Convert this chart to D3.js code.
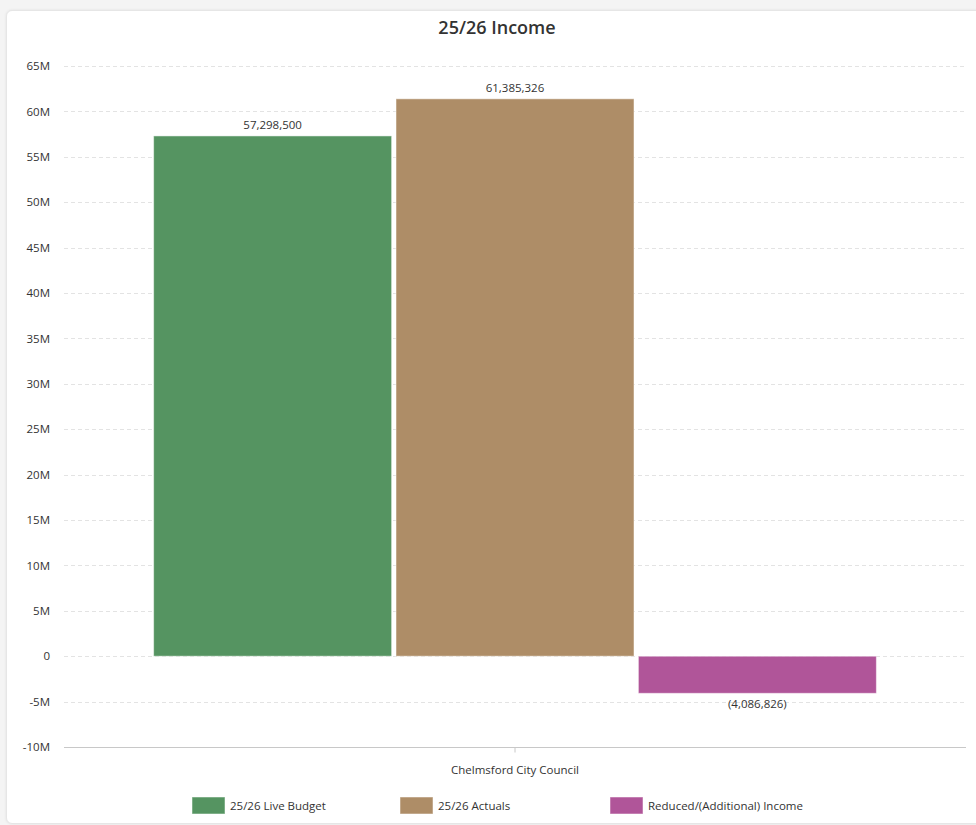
<!DOCTYPE html>
<html>
<head>
<meta charset="utf-8">
<script src="https://cdn.jsdelivr.net/npm/d3@7"></script>
<style>
  html, body { margin: 0; padding: 0; background: #f4f4f4; }
  body { width: 976px; height: 825px; overflow: hidden; position: relative; font-family: "Open Sans", sans-serif; }
  #card { position: absolute; left: 6px; top: 10px; width: 980px; height: 812px; background: #fff;
          border: 1px solid #e6e6e6; border-radius: 6px; box-shadow: 0 0 3px rgba(0,0,0,0.08); }
  svg { position: absolute; left: 0; top: 0; }
</style>
</head>
<body>
<div id="card"></div>
<svg id="chart" width="976" height="825"></svg>
<script>
const categories = ["Chelmsford City Council"];
const seriesNames = ["25/26 Live Budget", "25/26 Actuals", "Reduced/(Additional) Income"];
const seriesValues = [57298500, 61385326, -4086826];
const seriesColors = ["#559461", "#ae8d67", "#b05599"];
const yTicks = [-10e6, -5e6, 0, 5e6, 10e6, 15e6, 20e6, 25e6, 30e6, 35e6, 40e6, 45e6, 50e6, 55e6, 60e6, 65e6];
const title = "25/26 Income";

(function () {
const svg = d3.select("#chart");
const pL = 64, pR = 966, pT = 66, pB = 747;

const y = d3.scaleLinear().domain([-10e6, 65e6]).range([pB, pT]);
const x0 = d3.scaleBand().domain(categories).range([pL, pR]).paddingInner(0).paddingOuter(0.124);
const x1 = d3.scaleBand().domain(seriesNames).range([0, x0.bandwidth()]).paddingInner(0.018);

svg.append("text").attr("x", 497).attr("y", 34).attr("text-anchor", "middle")
  .attr("font-size", 18).attr("font-weight", 600).attr("fill", "#333").text(title);

// gridlines
svg.append("g").selectAll("line").data(yTicks.filter(d => d !== -10e6)).join("line")
  .attr("x1", pL).attr("x2", pR)
  .attr("y1", d => Math.round(y(d)) + 0.5).attr("y2", d => Math.round(y(d)) + 0.5)
  .attr("stroke", "#e3e3e3").attr("stroke-dasharray", "4,3");

// y axis labels
const fmtM = d => d === 0 ? "0" : (d / 1e6) + "M";
const yAxis = d3.axisLeft(y).tickValues(yTicks).tickFormat(fmtM).tickSize(0).tickPadding(14);
const gy = svg.append("g").attr("transform", `translate(${pL},0)`).call(yAxis);
gy.select(".domain").remove();
gy.selectAll("text").attr("font-size", 11.5).attr("fill", "#333").attr("font-family", "Open Sans, sans-serif");

// x axis
const xAxis = d3.axisBottom(x0).tickSize(6).tickPadding(12);
const gx = svg.append("g").attr("transform", `translate(0,${Math.round(y(-10e6)) + 0.5})`).call(xAxis);
gx.select(".domain").attr("stroke", "#c8c8c8").attr("d", `M${pL},0H${pR}`);
gx.selectAll(".tick line").attr("stroke", "#c8c8c8").attr("y1", 0).attr("y2", 5);
gx.selectAll("text").attr("font-size", 11.5).attr("fill", "#333").attr("font-family", "Open Sans, sans-serif");

// bars
const fmtN = d3.format(",");
const g = svg.append("g").attr("transform", `translate(${x0(categories[0])},0)`);
const data = seriesNames.map((n, i) => ({ name: n, value: seriesValues[i], color: seriesColors[i] }));
g.selectAll("rect").data(data).join("rect")
  .attr("x", d => x1(d.name)).attr("width", x1.bandwidth())
  .attr("y", d => y(Math.max(0, d.value)))
  .attr("height", d => Math.abs(y(d.value) - y(0)))
  .attr("fill", d => d.color).attr("stroke", "rgba(255,255,255,0.5)").attr("stroke-width", 1);

g.selectAll("text.lbl").data(data).join("text").attr("class", "lbl")
  .attr("x", d => x1(d.name) + x1.bandwidth() / 2)
  .attr("y", d => d.value >= 0 ? y(d.value) - 7 : y(d.value) + 15)
  .attr("text-anchor", "middle").attr("font-size", 11.5).attr("fill", "#333")
  .text(d => d.value >= 0 ? fmtN(d.value) : "(" + fmtN(-d.value) + ")");

// legend
const legendX = [192, 400, 610];
const lg = svg.append("g").selectAll("g").data(data).join("g")
  .attr("transform", (d, i) => `translate(${legendX[i]},797)`);
lg.append("rect").attr("width", 33).attr("height", 17).attr("fill", d => d.color)
  .attr("stroke", "rgba(255,255,255,0.5)");
lg.append("text").attr("x", 38).attr("y", 12.5).attr("font-size", 11.5).attr("fill", "#333").text(d => d.name);
})();
</script>
</body>
</html>
